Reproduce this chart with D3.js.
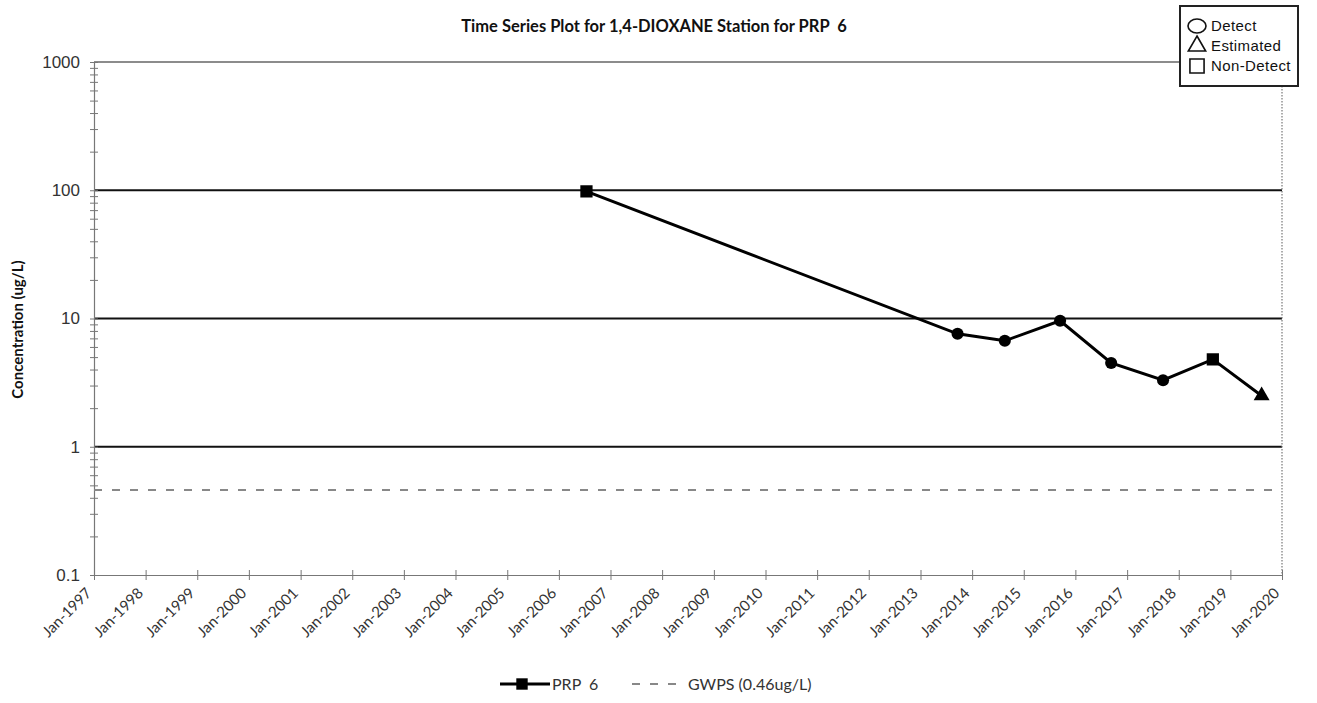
<!DOCTYPE html>
<html>
<head>
<meta charset="utf-8">
<script src="https://cdn.jsdelivr.net/npm/d3@7"></script>
<style>
  body { margin: 0; background: #fff; }
  svg { display: block; }
  text { white-space: pre; }
</style>
</head>
<body>
<div id="chart"></div>
<script>
// sample dates, concentrations and qualifiers for PRP 6
const sampleDates = ['2006-07-15', '2013-09-20', '2014-08-20', '2015-09-15', '2016-09-10', '2017-09-12', '2018-08-30', '2019-08-10']
const concentrations = [98, 7.6, 6.7, 9.6, 4.5, 3.3, 4.8, 2.5]
const qualifiers = ['Non-Detect', 'Detect', 'Detect', 'Detect', 'Detect', 'Detect', 'Non-Detect', 'Estimated']
const gwpsValue = 0.46
const yTickValues = [0.1, 1, 10, 100, 1000]
const xTickYears = d3.range(1997, 2021)
const legendItems = ['Detect', 'Estimated', 'Non-Detect']

const width = 1317
const height = 703
const marginLeft = 94
const marginRight = 35
const marginTop = 62
const marginBottom = 128

const svg = d3.select('#chart')
  .append('svg')
  .attr('width', width)
  .attr('height', height)

svg.append('rect').attr('width', width).attr('height', height).attr('fill', '#fff')

const parseDate = d3.timeParse('%Y-%m-%d')
const data = sampleDates.map((d, i) => ({
  date: parseDate(d),
  value: concentrations[i],
  qualifier: qualifiers[i],
}))

const xScale = d3.scaleTime()
  .domain([new Date(1997, 0, 1), new Date(2020, 0, 1)])
  .range([marginLeft, width - marginRight])

const yScale = d3.scaleLog()
  .domain([0.1, 1000])
  .range([height - marginBottom, marginTop])

const plotLeft = marginLeft
const plotRight = width - marginRight
const plotTop = marginTop
const plotBottom = height - marginBottom

// title
svg.append('text')
  .attr('x', 654)
  .attr('y', 32)
  .attr('text-anchor', 'middle')
  .style('font-family', 'Lato, "Open Sans", sans-serif')
  .style('font-weight', 'bold')
  .style('font-size', '16.5px')
  .attr('fill', '#111')
  .text('Time Series Plot for 1,4-DIOXANE Station for PRP  6')

// decade gridlines
svg.append('g')
  .selectAll('line')
  .data([1, 10, 100])
  .join('line')
  .attr('x1', plotLeft)
  .attr('x2', plotRight)
  .attr('y1', d => yScale(d))
  .attr('y2', d => yScale(d))
  .attr('stroke', '#111')
  .attr('stroke-width', 2)

// top border
svg.append('line')
  .attr('x1', plotLeft).attr('x2', plotRight)
  .attr('y1', plotTop).attr('y2', plotTop)
  .attr('stroke', '#666').attr('stroke-width', 1.5)

// right border (dotted)
svg.append('line')
  .attr('x1', plotRight).attr('x2', plotRight)
  .attr('y1', plotTop).attr('y2', plotBottom)
  .attr('stroke', '#777').attr('stroke-width', 1.2)
  .attr('stroke-dasharray', '1.5,1.5')

// y axis
const minorTicks = []
for (let e = -1; e < 3; e++) {
  for (let m = 1; m < 10; m++) minorTicks.push(m * Math.pow(10, e))
}
minorTicks.push(1000)

const yAxis = d3.axisLeft(yScale)
  .tickValues(minorTicks)
  .tickSizeInner(4)
  .tickSizeOuter(0)
  .tickFormat(d => (yTickValues.includes(d) ? String(d) : ''))

svg.append('g')
  .attr('transform', `translate(${plotLeft},0)`)
  .call(yAxis)
  .call(g => g.select('.domain').attr('stroke', '#777').attr('stroke-width', 1.2))
  .call(g => g.selectAll('.tick line').attr('stroke', '#777').attr('x2', 4).attr('x1', -4))
  .call(g => g.selectAll('.tick text')
    .attr('x', -14)
    .style('font-family', '"Liberation Sans", Arial, sans-serif')
    .style('font-size', '17px')
    .attr('fill', '#333'))

svg.append('text')
  .attr('transform', `translate(23, ${(plotTop + plotBottom) / 2 + 11}) rotate(-90)`)
  .attr('text-anchor', 'middle')
  .style('font-family', 'Lato, "Open Sans", sans-serif')
  .style('font-weight', 'bold')
  .style('font-size', '15px')
  .attr('fill', '#111')
  .text('Concentration (ug/L)')

// x axis
const xAxis = d3.axisBottom(xScale)
  .tickValues(xTickYears.map(y => new Date(y, 0, 1)))
  .tickSizeInner(5)
  .tickSizeOuter(0)
  .tickFormat(d3.timeFormat('Jan-%Y'))

svg.append('g')
  .attr('transform', `translate(0,${plotBottom})`)
  .call(xAxis)
  .call(g => g.select('.domain').attr('stroke', '#777').attr('stroke-width', 1.2))
  .call(g => g.selectAll('.tick line').attr('stroke', '#777').attr('y1', -5).attr('y2', 5))
  .call(g => g.selectAll('.tick text')
    .attr('y', 0)
    .attr('dy', 0)
    .attr('text-anchor', 'end')
    .attr('transform', 'translate(-2,19) rotate(-45)')
    .style('font-family', 'Lato, "Open Sans", sans-serif')
    .style('font-size', '15px')
    .attr('fill', '#333'))

// GWPS line
svg.append('line')
  .attr('x1', plotLeft)
  .attr('x2', plotRight)
  .attr('y1', yScale(gwpsValue))
  .attr('y2', yScale(gwpsValue))
  .attr('stroke', '#888')
  .attr('stroke-width', 1.8)
  .attr('stroke-dasharray', '8,10')

// data line
const line = d3.line()
  .x(d => xScale(d.date))
  .y(d => yScale(d.value))

svg.append('path')
  .datum(data)
  .attr('d', line)
  .attr('fill', 'none')
  .attr('stroke', '#000')
  .attr('stroke-width', 3)

const symbolFor = q => (q === 'Detect' ? d3.symbolCircle : q === 'Estimated' ? d3.symbolTriangle : d3.symbolSquare)
const sizeFor = q => (q === 'Detect' ? 115 : q === 'Estimated' ? 110 : 150)

svg.append('g')
  .selectAll('path')
  .data(data)
  .join('path')
  .attr('transform', d => `translate(${xScale(d.date)},${yScale(d.value)})`)
  .attr('d', d => d3.symbol().type(symbolFor(d.qualifier)).size(sizeFor(d.qualifier))())
  .attr('fill', '#000')

// qualifier legend (top right)
const qLegend = svg.append('g').attr('transform', 'translate(1180,6)')
qLegend.append('rect')
  .attr('width', 118)
  .attr('height', 80)
  .attr('fill', '#fff')
  .attr('stroke', '#222')
  .attr('stroke-width', 2)

legendItems.forEach((item, i) => {
  const cy = 20 + i * 20
  if (item === 'Detect') {
    qLegend.append('ellipse')
      .attr('cx', 17).attr('cy', cy)
      .attr('rx', 9).attr('ry', 7)
  } else {
    qLegend.append('path')
      .attr('transform', `translate(17,${cy})`)
      .attr('d', d3.symbol().type(symbolFor(item)).size(item === 'Estimated' ? 130 : 200)())
  }
  qLegend.selectAll('ellipse, path')
    .attr('fill', 'none')
    .attr('stroke', '#111')
    .attr('stroke-width', 1.6)
  qLegend.append('text')
    .attr('x', 31)
    .attr('y', cy + 5)
    .style('font-family', '"Liberation Sans", Arial, sans-serif')
    .style('font-size', '15px')
    .style('letter-spacing', '0.4px')
    .attr('fill', '#111')
    .text(item)
})

// bottom legend
const bLegend = svg.append('g').attr('transform', 'translate(500,684)')
bLegend.append('line')
  .attr('x1', 0).attr('x2', 50)
  .attr('stroke', '#000').attr('stroke-width', 3)
bLegend.append('path')
  .attr('transform', 'translate(22,0)')
  .attr('d', d3.symbol().type(d3.symbolSquare).size(130)())
  .attr('fill', '#000')
bLegend.append('text')
  .attr('x', 52).attr('y', 6)
  .style('font-family', 'Lato, "Open Sans", sans-serif')
  .style('font-size', '16px')
  .attr('fill', '#333')
  .text('PRP  6')
bLegend.append('line')
  .attr('x1', 132).attr('x2', 183)
  .attr('stroke', '#888').attr('stroke-width', 1.8)
  .attr('stroke-dasharray', '8,10')
bLegend.append('text')
  .attr('x', 188).attr('y', 6)
  .style('font-family', 'Lato, "Open Sans", sans-serif')
  .style('font-size', '16px')
  .attr('fill', '#333')
  .text('GWPS (0.46ug/L)')
</script>
</body>
</html>
